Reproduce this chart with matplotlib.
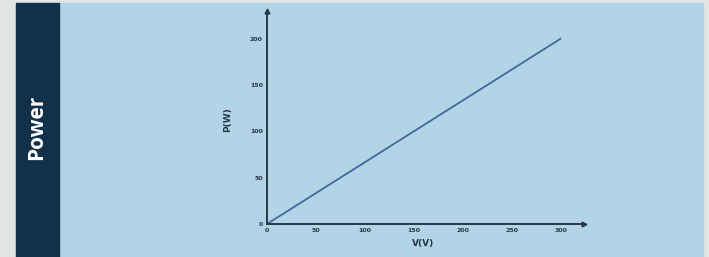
import matplotlib
matplotlib.use('Agg')
import matplotlib.pyplot as plt
from matplotlib.patches import Rectangle

# --- data ---
voltage = [0, 300]
power = [0, 200]
x_ticks = [0, 50, 100, 150, 200, 250, 300]
y_ticks = [0, 50, 100, 150, 200]

# --- colours ---
BG_GRAY = '#e4e6e6'
PANEL_BLUE = '#b3d3e7'
NAVY = '#11304a'
LINE_COLOR = '#3f6b9c'
AXIS_COLOR = '#27384a'

W, H = 709, 257
fig = plt.figure(figsize=(W / 100, H / 100), dpi=100)
fig.patch.set_facecolor(BG_GRAY)

# background panels (figure coords), kept behind the axes
fig.add_artist(Rectangle((16 / W, 0), (703 - 16) / W, (H - 3) / H,
                         transform=fig.transFigure, color=PANEL_BLUE, zorder=-2))
fig.add_artist(Rectangle((16 / W, 0), (59 - 16) / W, (H - 3) / H,
                         transform=fig.transFigure, color=NAVY, zorder=-1))
fig.text(37 / W, 130 / H, 'Power', rotation=90, color='white', fontsize=15,
         fontweight='bold', ha='center', va='center', family='Open Sans')

# axes: origin at (267, 224) px
ax = fig.add_axes([267 / W, (H - 224) / H, (584 - 267) / W, (224 - 11) / H])
ax.set_zorder(2)
ax.set_facecolor('none')
ax.plot(voltage, power, color=LINE_COLOR, lw=1.3)

ax.set_xlim(0, 324)
ax.set_ylim(0, 230)
ax.set_xticks(x_ticks)
ax.set_yticks(y_ticks)
for s in ['top', 'right']:
    ax.spines[s].set_visible(False)
for s in ['left', 'bottom']:
    ax.spines[s].set_color(AXIS_COLOR)
    ax.spines[s].set_linewidth(1.4)
ax.tick_params(length=0, pad=3, labelsize=4.5, colors=AXIS_COLOR)
for lab in ax.get_xticklabels() + ax.get_yticklabels():
    lab.set_fontweight('bold')

# arrow heads at axis ends
ax.plot(1, 0, '>', color=AXIS_COLOR, ms=3.5, transform=ax.transAxes, clip_on=False)
ax.plot(0, 1, '^', color=AXIS_COLOR, ms=3.5, transform=ax.transAxes, clip_on=False)

ax.set_xlabel('V(V)', fontsize=6.5, fontweight='bold', color=AXIS_COLOR)
ax.xaxis.set_label_coords((423 - 267) / (584 - 267), -0.07)
ax.set_ylabel('P(W)', fontsize=6.5, fontweight='bold', color=AXIS_COLOR)
ax.yaxis.set_label_coords(-(267 - 232) / (584 - 267), 0.49)

fig.savefig('out.png', dpi=100, facecolor=fig.get_facecolor())
